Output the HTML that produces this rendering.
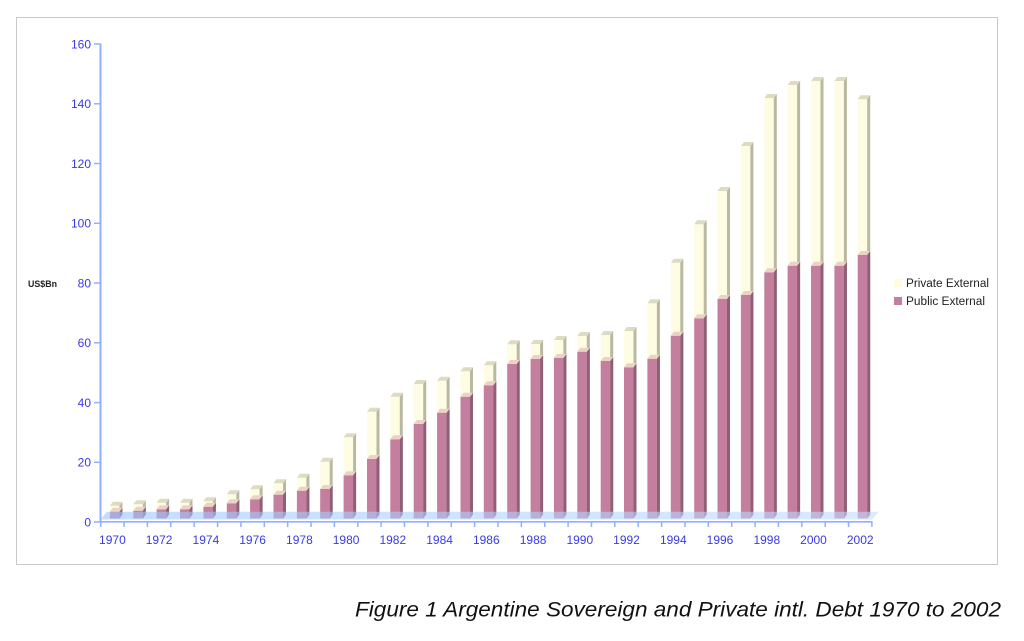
<!DOCTYPE html>
<html><head><meta charset="utf-8"><style>
html,body{margin:0;padding:0;background:#fff;}
svg{display:block;}
.pv{fill:#fefce2;}
.pb{fill:#c47e9e;}
.ps{fill:#b9b8a0;}
.bs{fill:#8f5f77;}
.pt{fill:#dddbc1;}
.bt{fill:#ead3c6;}
text{font-family:"Liberation Sans",sans-serif;}
.yl{font-size:12px;fill:#3a3ae6;text-anchor:end;}
.xl{font-size:12px;fill:#3a3ae6;text-anchor:middle;}
</style></head><body>
<svg width="1024" height="641" viewBox="0 0 1024 641" xmlns="http://www.w3.org/2000/svg">
<rect x="16.5" y="17.5" width="981" height="547" fill="#fff" stroke="#c9c9c9" stroke-width="1"/>

<!-- y axis -->
<line x1="100.5" y1="43.5" x2="100.5" y2="522" stroke="#8fb0ff" stroke-width="2"/>
<g stroke="#8fb0ff" stroke-width="1.5">
<line x1="94" y1="44" x2="100" y2="44"/>
<line x1="94" y1="103.8" x2="100" y2="103.8"/>
<line x1="94" y1="163.5" x2="100" y2="163.5"/>
<line x1="94" y1="223.3" x2="100" y2="223.3"/>
<line x1="94" y1="283" x2="100" y2="283"/>
<line x1="94" y1="342.8" x2="100" y2="342.8"/>
<line x1="94" y1="402.6" x2="100" y2="402.6"/>
<line x1="94" y1="462.3" x2="100" y2="462.3"/>
<line x1="94" y1="522" x2="100" y2="522"/>
</g>
<g class="yl">
<text x="91" y="48.3" class="yl">160</text>
<text x="91" y="108.1" class="yl">140</text>
<text x="91" y="167.8" class="yl">120</text>
<text x="91" y="227.6" class="yl">100</text>
<text x="91" y="287.3" class="yl">80</text>
<text x="91" y="347.1" class="yl">60</text>
<text x="91" y="406.9" class="yl">40</text>
<text x="91" y="466.6" class="yl">20</text>
<text x="91" y="526.3" class="yl">0</text>
</g>
<text x="28" y="287" font-size="9.5" font-weight="bold" fill="#222" textLength="29" lengthAdjust="spacingAndGlyphs">US$Bn</text>

<!-- bars -->
<g transform="translate(109.9 0)"><rect y="505.7" width="9.5" height="12.8" class="pv"/><path class="ps" d="M9.5 505.7l3 -4V514.5l-3 4z"/><path class="pt" d="M0 505.7l3 -4h9.5l-3 4z"/><rect y="511.7" width="9.5" height="6.8" class="pb"/><path class="bs" d="M9.5 511.7l3 -4V514.5l-3 4z"/><path class="bt" d="M0 511.7l3 -4h9.5l-3 4z"/></g>
<g transform="translate(133.3 0)"><rect y="504.3" width="9.5" height="14.2" class="pv"/><path class="ps" d="M9.5 504.3l3 -4V514.5l-3 4z"/><path class="pt" d="M0 504.3l3 -4h9.5l-3 4z"/><rect y="510.7" width="9.5" height="7.8" class="pb"/><path class="bs" d="M9.5 510.7l3 -4V514.5l-3 4z"/><path class="bt" d="M0 510.7l3 -4h9.5l-3 4z"/></g>
<g transform="translate(156.6 0)"><rect y="502.7" width="9.5" height="15.8" class="pv"/><path class="ps" d="M9.5 502.7l3 -4V514.5l-3 4z"/><path class="pt" d="M0 502.7l3 -4h9.5l-3 4z"/><rect y="509.3" width="9.5" height="9.2" class="pb"/><path class="bs" d="M9.5 509.3l3 -4V514.5l-3 4z"/><path class="bt" d="M0 509.3l3 -4h9.5l-3 4z"/></g>
<g transform="translate(180.0 0)"><rect y="502.7" width="9.5" height="15.8" class="pv"/><path class="ps" d="M9.5 502.7l3 -4V514.5l-3 4z"/><path class="pt" d="M0 502.7l3 -4h9.5l-3 4z"/><rect y="509.3" width="9.5" height="9.2" class="pb"/><path class="bs" d="M9.5 509.3l3 -4V514.5l-3 4z"/><path class="bt" d="M0 509.3l3 -4h9.5l-3 4z"/></g>
<g transform="translate(203.4 0)"><rect y="501.3" width="9.5" height="17.2" class="pv"/><path class="ps" d="M9.5 501.3l3 -4V514.5l-3 4z"/><path class="pt" d="M0 501.3l3 -4h9.5l-3 4z"/><rect y="506.7" width="9.5" height="11.8" class="pb"/><path class="bs" d="M9.5 506.7l3 -4V514.5l-3 4z"/><path class="bt" d="M0 506.7l3 -4h9.5l-3 4z"/></g>
<g transform="translate(226.8 0)"><rect y="494.3" width="9.5" height="24.2" class="pv"/><path class="ps" d="M9.5 494.3l3 -4V514.5l-3 4z"/><path class="pt" d="M0 494.3l3 -4h9.5l-3 4z"/><rect y="503.3" width="9.5" height="15.2" class="pb"/><path class="bs" d="M9.5 503.3l3 -4V514.5l-3 4z"/><path class="bt" d="M0 503.3l3 -4h9.5l-3 4z"/></g>
<g transform="translate(250.1 0)"><rect y="489.3" width="9.5" height="29.2" class="pv"/><path class="ps" d="M9.5 489.3l3 -4V514.5l-3 4z"/><path class="pt" d="M0 489.3l3 -4h9.5l-3 4z"/><rect y="499.3" width="9.5" height="19.2" class="pb"/><path class="bs" d="M9.5 499.3l3 -4V514.5l-3 4z"/><path class="bt" d="M0 499.3l3 -4h9.5l-3 4z"/></g>
<g transform="translate(273.5 0)"><rect y="483.3" width="9.5" height="35.2" class="pv"/><path class="ps" d="M9.5 483.3l3 -4V514.5l-3 4z"/><path class="pt" d="M0 483.3l3 -4h9.5l-3 4z"/><rect y="494.7" width="9.5" height="23.8" class="pb"/><path class="bs" d="M9.5 494.7l3 -4V514.5l-3 4z"/><path class="bt" d="M0 494.7l3 -4h9.5l-3 4z"/></g>
<g transform="translate(296.9 0)"><rect y="477.7" width="9.5" height="40.8" class="pv"/><path class="ps" d="M9.5 477.7l3 -4V514.5l-3 4z"/><path class="pt" d="M0 477.7l3 -4h9.5l-3 4z"/><rect y="490.7" width="9.5" height="27.8" class="pb"/><path class="bs" d="M9.5 490.7l3 -4V514.5l-3 4z"/><path class="bt" d="M0 490.7l3 -4h9.5l-3 4z"/></g>
<g transform="translate(320.2 0)"><rect y="461.7" width="9.5" height="56.8" class="pv"/><path class="ps" d="M9.5 461.7l3 -4V514.5l-3 4z"/><path class="pt" d="M0 461.7l3 -4h9.5l-3 4z"/><rect y="489" width="9.5" height="29.5" class="pb"/><path class="bs" d="M9.5 489l3 -4V514.5l-3 4z"/><path class="bt" d="M0 489l3 -4h9.5l-3 4z"/></g>
<g transform="translate(343.6 0)"><rect y="437.3" width="9.5" height="81.2" class="pv"/><path class="ps" d="M9.5 437.3l3 -4V514.5l-3 4z"/><path class="pt" d="M0 437.3l3 -4h9.5l-3 4z"/><rect y="475.3" width="9.5" height="43.2" class="pb"/><path class="bs" d="M9.5 475.3l3 -4V514.5l-3 4z"/><path class="bt" d="M0 475.3l3 -4h9.5l-3 4z"/></g>
<g transform="translate(367.0 0)"><rect y="411.7" width="9.5" height="106.8" class="pv"/><path class="ps" d="M9.5 411.7l3 -4V514.5l-3 4z"/><path class="pt" d="M0 411.7l3 -4h9.5l-3 4z"/><rect y="459" width="9.5" height="59.5" class="pb"/><path class="bs" d="M9.5 459l3 -4V514.5l-3 4z"/><path class="bt" d="M0 459l3 -4h9.5l-3 4z"/></g>
<g transform="translate(390.3 0)"><rect y="396.7" width="9.5" height="121.8" class="pv"/><path class="ps" d="M9.5 396.7l3 -4V514.5l-3 4z"/><path class="pt" d="M0 396.7l3 -4h9.5l-3 4z"/><rect y="439.3" width="9.5" height="79.2" class="pb"/><path class="bs" d="M9.5 439.3l3 -4V514.5l-3 4z"/><path class="bt" d="M0 439.3l3 -4h9.5l-3 4z"/></g>
<g transform="translate(413.7 0)"><rect y="384" width="9.5" height="134.5" class="pv"/><path class="ps" d="M9.5 384l3 -4V514.5l-3 4z"/><path class="pt" d="M0 384l3 -4h9.5l-3 4z"/><rect y="424" width="9.5" height="94.5" class="pb"/><path class="bs" d="M9.5 424l3 -4V514.5l-3 4z"/><path class="bt" d="M0 424l3 -4h9.5l-3 4z"/></g>
<g transform="translate(437.1 0)"><rect y="380.7" width="9.5" height="137.8" class="pv"/><path class="ps" d="M9.5 380.7l3 -4V514.5l-3 4z"/><path class="pt" d="M0 380.7l3 -4h9.5l-3 4z"/><rect y="412.7" width="9.5" height="105.8" class="pb"/><path class="bs" d="M9.5 412.7l3 -4V514.5l-3 4z"/><path class="bt" d="M0 412.7l3 -4h9.5l-3 4z"/></g>
<g transform="translate(460.5 0)"><rect y="371.3" width="9.5" height="147.2" class="pv"/><path class="ps" d="M9.5 371.3l3 -4V514.5l-3 4z"/><path class="pt" d="M0 371.3l3 -4h9.5l-3 4z"/><rect y="396.7" width="9.5" height="121.8" class="pb"/><path class="bs" d="M9.5 396.7l3 -4V514.5l-3 4z"/><path class="bt" d="M0 396.7l3 -4h9.5l-3 4z"/></g>
<g transform="translate(483.8 0)"><rect y="365.3" width="9.5" height="153.2" class="pv"/><path class="ps" d="M9.5 365.3l3 -4V514.5l-3 4z"/><path class="pt" d="M0 365.3l3 -4h9.5l-3 4z"/><rect y="385.3" width="9.5" height="133.2" class="pb"/><path class="bs" d="M9.5 385.3l3 -4V514.5l-3 4z"/><path class="bt" d="M0 385.3l3 -4h9.5l-3 4z"/></g>
<g transform="translate(507.2 0)"><rect y="344.3" width="9.5" height="174.2" class="pv"/><path class="ps" d="M9.5 344.3l3 -4V514.5l-3 4z"/><path class="pt" d="M0 344.3l3 -4h9.5l-3 4z"/><rect y="364" width="9.5" height="154.5" class="pb"/><path class="bs" d="M9.5 364l3 -4V514.5l-3 4z"/><path class="bt" d="M0 364l3 -4h9.5l-3 4z"/></g>
<g transform="translate(530.6 0)"><rect y="344" width="9.5" height="174.5" class="pv"/><path class="ps" d="M9.5 344l3 -4V514.5l-3 4z"/><path class="pt" d="M0 344l3 -4h9.5l-3 4z"/><rect y="359" width="9.5" height="159.5" class="pb"/><path class="bs" d="M9.5 359l3 -4V514.5l-3 4z"/><path class="bt" d="M0 359l3 -4h9.5l-3 4z"/></g>
<g transform="translate(553.9 0)"><rect y="340" width="9.5" height="178.5" class="pv"/><path class="ps" d="M9.5 340l3 -4V514.5l-3 4z"/><path class="pt" d="M0 340l3 -4h9.5l-3 4z"/><rect y="358" width="9.5" height="160.5" class="pb"/><path class="bs" d="M9.5 358l3 -4V514.5l-3 4z"/><path class="bt" d="M0 358l3 -4h9.5l-3 4z"/></g>
<g transform="translate(577.3 0)"><rect y="336" width="9.5" height="182.5" class="pv"/><path class="ps" d="M9.5 336l3 -4V514.5l-3 4z"/><path class="pt" d="M0 336l3 -4h9.5l-3 4z"/><rect y="351.7" width="9.5" height="166.8" class="pb"/><path class="bs" d="M9.5 351.7l3 -4V514.5l-3 4z"/><path class="bt" d="M0 351.7l3 -4h9.5l-3 4z"/></g>
<g transform="translate(600.7 0)"><rect y="335" width="9.5" height="183.5" class="pv"/><path class="ps" d="M9.5 335l3 -4V514.5l-3 4z"/><path class="pt" d="M0 335l3 -4h9.5l-3 4z"/><rect y="361" width="9.5" height="157.5" class="pb"/><path class="bs" d="M9.5 361l3 -4V514.5l-3 4z"/><path class="bt" d="M0 361l3 -4h9.5l-3 4z"/></g>
<g transform="translate(624.0 0)"><rect y="331" width="9.5" height="187.5" class="pv"/><path class="ps" d="M9.5 331l3 -4V514.5l-3 4z"/><path class="pt" d="M0 331l3 -4h9.5l-3 4z"/><rect y="367.3" width="9.5" height="151.2" class="pb"/><path class="bs" d="M9.5 367.3l3 -4V514.5l-3 4z"/><path class="bt" d="M0 367.3l3 -4h9.5l-3 4z"/></g>
<g transform="translate(647.4 0)"><rect y="303.3" width="9.5" height="215.2" class="pv"/><path class="ps" d="M9.5 303.3l3 -4V514.5l-3 4z"/><path class="pt" d="M0 303.3l3 -4h9.5l-3 4z"/><rect y="358.7" width="9.5" height="159.8" class="pb"/><path class="bs" d="M9.5 358.7l3 -4V514.5l-3 4z"/><path class="bt" d="M0 358.7l3 -4h9.5l-3 4z"/></g>
<g transform="translate(670.8 0)"><rect y="262.7" width="9.5" height="255.8" class="pv"/><path class="ps" d="M9.5 262.7l3 -4V514.5l-3 4z"/><path class="pt" d="M0 262.7l3 -4h9.5l-3 4z"/><rect y="335.7" width="9.5" height="182.8" class="pb"/><path class="bs" d="M9.5 335.7l3 -4V514.5l-3 4z"/><path class="bt" d="M0 335.7l3 -4h9.5l-3 4z"/></g>
<g transform="translate(694.2 0)"><rect y="224.3" width="9.5" height="294.2" class="pv"/><path class="ps" d="M9.5 224.3l3 -4V514.5l-3 4z"/><path class="pt" d="M0 224.3l3 -4h9.5l-3 4z"/><rect y="318.3" width="9.5" height="200.2" class="pb"/><path class="bs" d="M9.5 318.3l3 -4V514.5l-3 4z"/><path class="bt" d="M0 318.3l3 -4h9.5l-3 4z"/></g>
<g transform="translate(717.5 0)"><rect y="191" width="9.5" height="327.5" class="pv"/><path class="ps" d="M9.5 191l3 -4V514.5l-3 4z"/><path class="pt" d="M0 191l3 -4h9.5l-3 4z"/><rect y="299" width="9.5" height="219.5" class="pb"/><path class="bs" d="M9.5 299l3 -4V514.5l-3 4z"/><path class="bt" d="M0 299l3 -4h9.5l-3 4z"/></g>
<g transform="translate(740.9 0)"><rect y="146" width="9.5" height="372.5" class="pv"/><path class="ps" d="M9.5 146l3 -4V514.5l-3 4z"/><path class="pt" d="M0 146l3 -4h9.5l-3 4z"/><rect y="295" width="9.5" height="223.5" class="pb"/><path class="bs" d="M9.5 295l3 -4V514.5l-3 4z"/><path class="bt" d="M0 295l3 -4h9.5l-3 4z"/></g>
<g transform="translate(764.3 0)"><rect y="98" width="9.5" height="420.5" class="pv"/><path class="ps" d="M9.5 98l3 -4V514.5l-3 4z"/><path class="pt" d="M0 98l3 -4h9.5l-3 4z"/><rect y="272.3" width="9.5" height="246.2" class="pb"/><path class="bs" d="M9.5 272.3l3 -4V514.5l-3 4z"/><path class="bt" d="M0 272.3l3 -4h9.5l-3 4z"/></g>
<g transform="translate(787.6 0)"><rect y="85" width="9.5" height="433.5" class="pv"/><path class="ps" d="M9.5 85l3 -4V514.5l-3 4z"/><path class="pt" d="M0 85l3 -4h9.5l-3 4z"/><rect y="265.7" width="9.5" height="252.8" class="pb"/><path class="bs" d="M9.5 265.7l3 -4V514.5l-3 4z"/><path class="bt" d="M0 265.7l3 -4h9.5l-3 4z"/></g>
<g transform="translate(811.0 0)"><rect y="81" width="9.5" height="437.5" class="pv"/><path class="ps" d="M9.5 81l3 -4V514.5l-3 4z"/><path class="pt" d="M0 81l3 -4h9.5l-3 4z"/><rect y="265.7" width="9.5" height="252.8" class="pb"/><path class="bs" d="M9.5 265.7l3 -4V514.5l-3 4z"/><path class="bt" d="M0 265.7l3 -4h9.5l-3 4z"/></g>
<g transform="translate(834.4 0)"><rect y="81" width="9.5" height="437.5" class="pv"/><path class="ps" d="M9.5 81l3 -4V514.5l-3 4z"/><path class="pt" d="M0 81l3 -4h9.5l-3 4z"/><rect y="265.7" width="9.5" height="252.8" class="pb"/><path class="bs" d="M9.5 265.7l3 -4V514.5l-3 4z"/><path class="bt" d="M0 265.7l3 -4h9.5l-3 4z"/></g>
<g transform="translate(857.7 0)"><rect y="99.3" width="9.5" height="419.2" class="pv"/><path class="ps" d="M9.5 99.3l3 -4V514.5l-3 4z"/><path class="pt" d="M0 99.3l3 -4h9.5l-3 4z"/><rect y="255" width="9.5" height="263.5" class="pb"/><path class="bs" d="M9.5 255l3 -4V514.5l-3 4z"/><path class="bt" d="M0 255l3 -4h9.5l-3 4z"/></g>

<!-- floor -->
<defs><linearGradient id="fl" x1="0" x2="1" y1="0" y2="0"><stop offset="0" stop-color="#9cc6ff"/><stop offset="1" stop-color="#c2dcff"/></linearGradient></defs>
<polygon points="100.5,519.5 872,519.5 878.5,511.7 107,511.7" fill="url(#fl)" fill-opacity="0.6"/>

<!-- x axis -->
<line x1="100" y1="521.8" x2="872.5" y2="521.8" stroke="#8fb0ff" stroke-width="1.6"/>
<path stroke="#8fb0ff" stroke-width="1.5" fill="none" d="M100.7 522v5M124.1 522v5M147.4 522v5M170.8 522v5M194.2 522v5M217.6 522v5M240.9 522v5M264.3 522v5M287.7 522v5M311.0 522v5M334.4 522v5M357.8 522v5M381.1 522v5M404.5 522v5M427.9 522v5M451.3 522v5M474.6 522v5M498.0 522v5M521.4 522v5M544.7 522v5M568.1 522v5M591.5 522v5M614.8 522v5M638.2 522v5M661.6 522v5M685.0 522v5M708.3 522v5M731.7 522v5M755.1 522v5M778.4 522v5M801.8 522v5M825.2 522v5M848.5 522v5M871.9 522v5"/>
<g>
<text class="xl" x="112.4" y="544">1970</text>
<text class="xl" x="159.1" y="544">1972</text>
<text class="xl" x="205.9" y="544">1974</text>
<text class="xl" x="252.6" y="544">1976</text>
<text class="xl" x="299.4" y="544">1978</text>
<text class="xl" x="346.1" y="544">1980</text>
<text class="xl" x="392.8" y="544">1982</text>
<text class="xl" x="439.6" y="544">1984</text>
<text class="xl" x="486.3" y="544">1986</text>
<text class="xl" x="533.1" y="544">1988</text>
<text class="xl" x="579.8" y="544">1990</text>
<text class="xl" x="626.5" y="544">1992</text>
<text class="xl" x="673.3" y="544">1994</text>
<text class="xl" x="720.0" y="544">1996</text>
<text class="xl" x="766.8" y="544">1998</text>
<text class="xl" x="813.5" y="544">2000</text>
<text class="xl" x="860.2" y="544">2002</text>
</g>

<!-- legend -->
<rect x="894" y="279" width="8" height="8" fill="#fffbdc"/>
<rect x="894" y="297" width="8" height="8" fill="#c47e9e"/>
<text x="906" y="287" font-size="11.5" fill="#222" textLength="83" lengthAdjust="spacingAndGlyphs">Private External</text>
<text x="906" y="305" font-size="11.5" fill="#222" textLength="79" lengthAdjust="spacingAndGlyphs">Public External</text>

<!-- caption -->
<text x="355" y="616.5" font-size="21" font-style="italic" fill="#111" textLength="646" lengthAdjust="spacingAndGlyphs">Figure 1 Argentine Sovereign and Private intl. Debt 1970 to 2002</text>
</svg>
</body></html>
